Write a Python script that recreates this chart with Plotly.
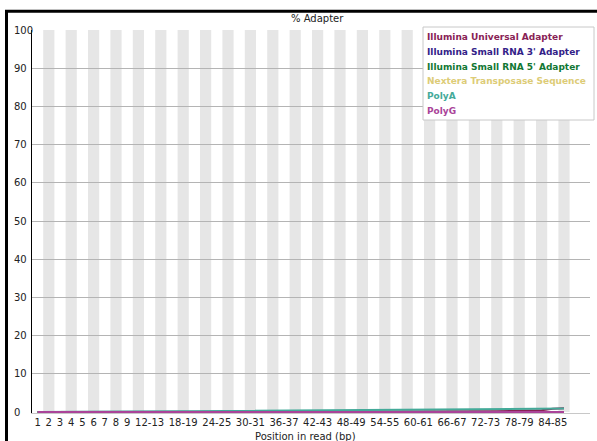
import plotly.graph_objects as go

# ---- data ----
positions = ["1", "2", "3", "4", "5", "6", "7", "8", "9",
             "10-11", "12-13", "14-15", "16-17", "18-19", "20-21", "22-23",
             "24-25", "26-27", "28-29", "30-31", "32-33", "34-35", "36-37",
             "38-39", "40-41", "42-43", "44-45", "46-47", "48-49", "50-51",
             "52-53", "54-55", "56-57", "58-59", "60-61", "62-63", "64-65",
             "66-67", "68-69", "70-71", "72-73", "74-75", "76-77", "78-79",
             "80-81", "82-83", "84-85", "86-87"]

shown_labels = ["1", "2", "3", "4", "5", "6", "7", "8", "9",
                "12-13", "18-19", "24-25", "30-31", "36-37", "42-43",
                "48-49", "54-55", "60-61", "66-67", "72-73", "78-79", "84-85"]

y_ticks = [0, 10, 20, 30, 40, 50, 60, 70, 80, 90, 100]

series_names = ["Illumina Universal Adapter", "Illumina Small RNA 3' Adapter",
                "Illumina Small RNA 5' Adapter", "Nextera Transposase Sequence",
                "PolyA", "PolyG"]

universal = [0.00, 0.00, 0.00, 0.00, 0.00, 0.00, 0.00, 0.00, 0.00,
             0.00, 0.00, 0.00, 0.00, 0.00, 0.00, 0.00, 0.00, 0.00, 0.00, 0.00,
             0.00, 0.00, 0.00, 0.00, 0.00, 0.01, 0.01, 0.01, 0.02, 0.02,
             0.03, 0.04, 0.05, 0.06, 0.07, 0.09, 0.10, 0.12, 0.14, 0.16,
             0.18, 0.20, 0.23, 0.26, 0.31, 0.45, 0.85, 1.00]
small_rna_3 = [0.00] * 48
small_rna_5 = [0.00] * 48
nextera = [0.00] * 48
poly_a = [0.00, 0.00, 0.00, 0.01, 0.02, 0.03, 0.05, 0.07, 0.08,
          0.10, 0.13, 0.15, 0.17, 0.18, 0.21, 0.23, 0.25, 0.26, 0.29, 0.31,
          0.33, 0.34, 0.37, 0.39, 0.40, 0.43, 0.45, 0.46, 0.49, 0.51,
          0.53, 0.55, 0.56, 0.59, 0.61, 0.62, 0.65, 0.67, 0.68, 0.71,
          0.73, 0.74, 0.77, 0.79, 0.81, 0.85, 0.89, 0.93]
poly_g = [0.00] * 48

series_values = [universal, small_rna_3, small_rna_5, nextera, poly_a, poly_g]
series_colors = ["#882255", "#332288", "#117733", "#DDCC77", "#44AA99", "#AA4499"]

# ---- layout geometry (pixels) ----
W, H = 597, 441
L, R, T, B = 32, 7, 30, 28
pw = W - L - R
ph = H - T - B
n = len(positions)
cat_w = 11.2
x_max = -0.5 + pw / cat_w


def px_x(p):
    return (p - L) / pw


def px_y(p):
    return (H - B - p) / ph


FONT = "DejaVu Sans"

fig = go.Figure()

for name, vals, col in zip(series_names, series_values, series_colors):
    fig.add_trace(go.Scatter(x=positions, y=vals, mode="lines", name=name,
                             line=dict(color=col, width=2), showlegend=False,
                             hoverinfo="skip"))

shapes = []
# alternating stripes
for i in range(1, n, 2):
    shapes.append(dict(type="rect", xref="x", yref="y", x0=i - 0.5, x1=i + 0.5,
                       y0=0, y1=100, fillcolor="#E6E6E6", line=dict(width=0),
                       layer="below"))
# legend box
shapes.append(dict(type="rect", xref="paper", yref="paper",
                   x0=px_x(423), x1=px_x(594), y0=px_y(120), y1=px_y(27),
                   fillcolor="white", line=dict(color="#C8C8C8", width=1),
                   layer="above"))
# outer frame
shapes.append(dict(type="rect", xref="paper", yref="paper",
                   x0=px_x(6.5), x1=px_x(603), y0=px_y(450), y1=px_y(11.3),
                   fillcolor="rgba(0,0,0,0)", line=dict(color="black", width=3),
                   layer="above"))

annotations = []
for i, (name, col) in enumerate(zip(series_names, series_colors)):
    annotations.append(dict(xref="paper", yref="paper", x=px_x(425), y=px_y(37 + 14.8 * i),
                            xanchor="left", yanchor="middle", showarrow=False,
                            text="<b>" + name + "</b>",
                            font=dict(family=FONT, size=9, color=col)))
for v in y_ticks:
    annotations.append(dict(xref="paper", yref="y", x=0, y=v, xshift=-20,
                            xanchor="left", yanchor="middle", showarrow=False,
                            text=str(v), font=dict(family=FONT, size=10, color="#222")))
annotations.append(dict(xref="paper", yref="paper", x=px_x(317), y=px_y(18),
                        xanchor="center", yanchor="middle", showarrow=False,
                        text="% Adapter", font=dict(family=FONT, size=10, color="#222")))
annotations.append(dict(xref="paper", yref="paper", x=px_x(305), y=px_y(436),
                        xanchor="center", yanchor="middle", showarrow=False,
                        text="Position in read (bp)",
                        font=dict(family=FONT, size=10, color="#222")))

fig.update_layout(
    width=W, height=H,
    margin=dict(l=L, r=R, t=T, b=B, pad=0),
    paper_bgcolor="white", plot_bgcolor="white",
    shapes=shapes, annotations=annotations,
    font=dict(family=FONT, size=10, color="#222"),
    xaxis=dict(type="category", categoryorder="array", categoryarray=positions,
               range=[-0.5, x_max], tickmode="array", tickvals=shown_labels,
               ticktext=shown_labels, showgrid=False, zeroline=False,
               showline=True, linecolor="#C8C8C8", linewidth=1, ticks="",
               tickfont=dict(family=FONT, size=10, color="#222"), tickangle=0),
    yaxis=dict(range=[-0.25, 100], tickmode="array", tickvals=y_ticks,
               showticklabels=False, showgrid=True, gridcolor="#B4B4B4",
               gridwidth=1, zeroline=False, showline=True, linecolor="black",
               linewidth=1, ticks=""),
)

fig.write_html("out.html")
